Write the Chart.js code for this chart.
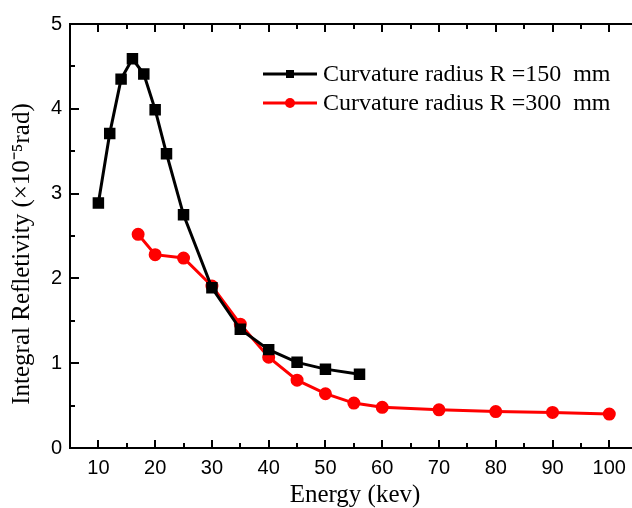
<!DOCTYPE html>
<html>
<head>
<meta charset="utf-8">
<script src="https://cdn.jsdelivr.net/npm/chart.js@4.4.0/dist/chart.umd.min.js"></script>
<style>
  body { margin: 0; background: #fff; overflow: hidden; }
  canvas { display: block; }
</style>
</head>
<body>
<canvas id="grafico" width="632" height="508"></canvas>
<script>
const energia150 = [10, 12, 14, 16, 18, 20, 22, 25, 30, 35, 40, 45, 50, 56];
const reflet150 = [2.89, 3.71, 4.35, 4.59, 4.41, 3.99, 3.47, 2.75, 1.89, 1.40, 1.16, 1.01, 0.93, 0.87];
const energia300 = [17, 20, 25, 30, 35, 40, 45, 50, 55, 60, 70, 80, 90, 100];
const reflet300 = [2.52, 2.28, 2.24, 1.91, 1.46, 1.07, 0.80, 0.64, 0.53, 0.48, 0.45, 0.43, 0.42, 0.40];

const xMaiores = [10, 20, 30, 40, 50, 60, 70, 80, 90, 100];
const xMenores = [15, 25, 35, 45, 55, 65, 75, 85, 95];
const yMaiores = [0, 1, 2, 3, 4, 5];
const yMenores = [0.5, 1.5, 2.5, 3.5, 4.5];

const nomes = ['Curvature radius R =150  mm', 'Curvature radius R =300  mm'];
const tituloX = 'Energy (kev)';
const tituloY = 'Integral Refletivity (\u00d710\u207b\u2075rad)';

const serif = '"Liberation Serif", "Times New Roman", serif';
const sans = '"Liberation Sans", Arial, sans-serif';

const pares = (xs, ys) => xs.map((v, i) => ({ x: v, y: ys[i] }));

const moldura = {
    id: 'moldura',
    afterDraw(chart) {
        const ctx = chart.ctx;
        const area = chart.chartArea;
        const sx = chart.scales.x;
        const sy = chart.scales.y;
        ctx.save();
        ctx.strokeStyle = '#000';
        ctx.lineWidth = 2;

        // linha de cima
        ctx.beginPath();
        ctx.moveTo(area.left - 1, area.top);
        ctx.lineTo(area.right, area.top);
        ctx.stroke();

        // ticks para dentro
        const tickX = (v, len) => {
            const px = Math.round(sx.getPixelForValue(v));
            ctx.beginPath();
            ctx.moveTo(px, area.bottom);
            ctx.lineTo(px, area.bottom - len);
            ctx.moveTo(px, area.top);
            ctx.lineTo(px, area.top + len);
            ctx.stroke();
        };
        const tickY = (v, len) => {
            const py = Math.round(sy.getPixelForValue(v));
            ctx.beginPath();
            ctx.moveTo(area.left, py);
            ctx.lineTo(area.left + len, py);
            ctx.stroke();
        };
        xMaiores.forEach(v => tickX(v, 8));
        xMenores.forEach(v => tickX(v, 5));
        yMaiores.forEach(v => tickY(v, 9));
        yMenores.forEach(v => tickY(v, 5));

        // titulos dos eixos
        ctx.fillStyle = '#000';
        ctx.font = '25px ' + serif;
        ctx.textAlign = 'center';
        ctx.textBaseline = 'middle';
        ctx.fillText(tituloX, 355, 495);
        ctx.save();
        ctx.translate(22, 254);
        ctx.rotate(-Math.PI / 2);
        ctx.fillText(tituloY, 0, 0);
        ctx.restore();

        // legenda
        ctx.font = '24px ' + serif;
        ctx.textAlign = 'left';
        chart.data.datasets.forEach((ds, i) => {
            const ly = 74 + i * 29;
            ctx.strokeStyle = ds.borderColor;
            ctx.lineWidth = 3;
            ctx.beginPath();
            ctx.moveTo(263, ly);
            ctx.lineTo(317, ly);
            ctx.stroke();
            ctx.fillStyle = ds.borderColor;
            if (ds.pointStyle === 'rect') {
                ctx.fillRect(286, ly - 4, 8, 8);
            } else {
                ctx.beginPath();
                ctx.arc(290, ly, 5, 0, Math.PI * 2);
                ctx.fill();
            }
            ctx.fillStyle = '#000';
            ctx.fillText(nomes[i], 323, ly + 1);
        });
        ctx.restore();
    }
};

const ctx = document.getElementById('grafico').getContext('2d');
const grafico = new Chart(ctx, {
    type: 'line',
    data: {
        datasets: [
            {
                label: nomes[0],
                data: pares(energia150, reflet150),
                borderColor: '#000000',
                backgroundColor: '#000000',
                borderWidth: 3,
                pointStyle: 'rect',
                pointRadius: 6,
                pointHoverRadius: 6,
                tension: 0
            },
            {
                label: nomes[1],
                data: pares(energia300, reflet300),
                borderColor: '#ff0000',
                backgroundColor: '#ff0000',
                borderWidth: 3,
                pointStyle: 'circle',
                pointRadius: 5,
                pointHoverRadius: 5,
                tension: 0
            }
        ]
    },
    options: {
        responsive: false,
        animation: false,
        layout: { autoPadding: false, padding: { top: 24, right: 0, left: 0, bottom: 0 } },
        scales: {
            x: {
                type: 'linear',
                min: 5,
                max: 104,
                afterFit: s => { s.height = 60; s.paddingLeft = 0; s.paddingRight = 0; },
                afterBuildTicks: s => { s.ticks = xMaiores.map(v => ({ value: v })); },
                grid: { display: false, drawTicks: false },
                border: { display: true, color: '#000', width: 2 },
                ticks: { color: '#000', font: { family: sans, size: 20 }, padding: 8, maxRotation: 0, autoSkip: false }
            },
            y: {
                min: 0,
                max: 5,
                afterFit: s => { s.width = 70; s.paddingTop = 0; s.paddingBottom = 0; },
                afterBuildTicks: s => { s.ticks = yMaiores.map(v => ({ value: v })); },
                grid: { display: false, drawTicks: false },
                border: { display: true, color: '#000', width: 2 },
                ticks: { color: '#000', font: { family: sans, size: 20 }, padding: 8 }
            }
        },
        plugins: {
            legend: { display: false },
            tooltip: { enabled: false }
        }
    },
    plugins: [moldura]
});
</script>
</body>
</html>
